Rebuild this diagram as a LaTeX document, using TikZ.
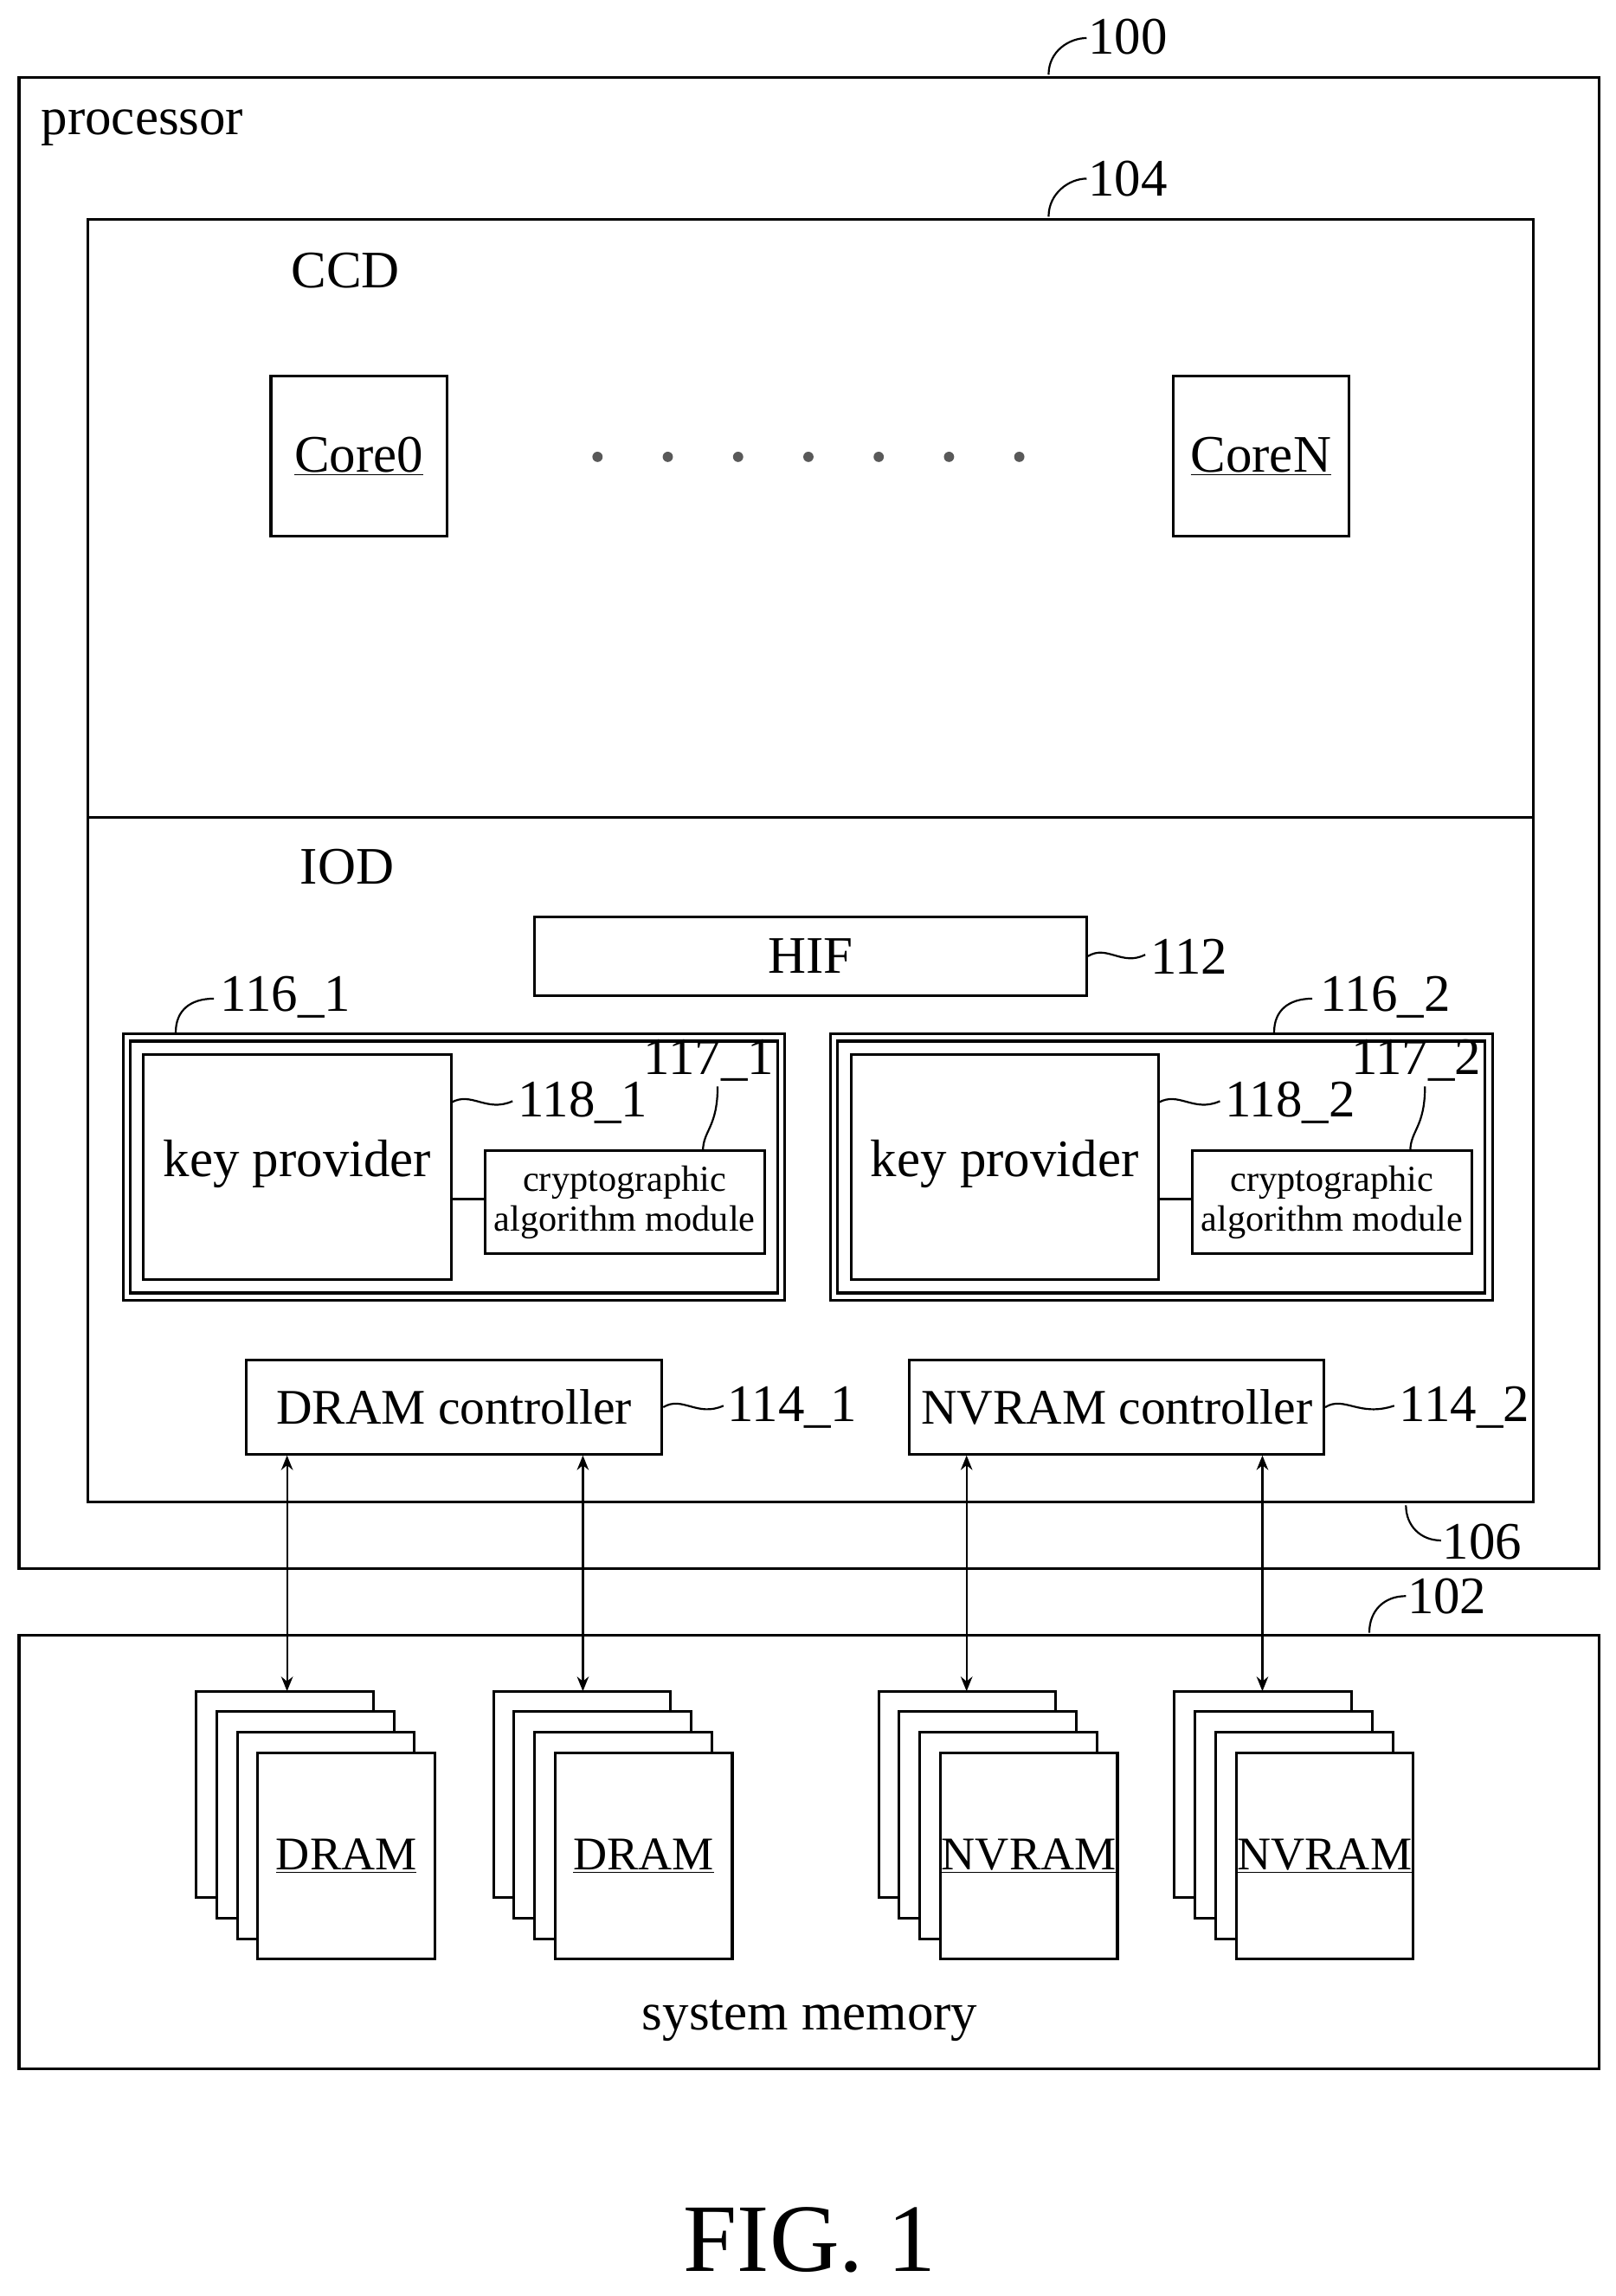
\documentclass[tikz,border=0pt]{standalone}
\usepackage{fontspec}
\setmainfont{Liberation Serif}
\usetikzlibrary{fit,arrows.meta}
\begin{document}
\begin{tikzpicture}[x=1pt,y=-1pt,line width=1.8pt,
  box/.style={draw,inner sep=0pt},
  big/.style={font=\fontsize{36}{38}\selectfont},
  ctl/.style={font=\fontsize{34}{36}\selectfont},
  mid/.style={font=\fontsize{32}{34}\selectfont},
  sm/.style={font=\fontsize{25}{27}\selectfont,align=center,inner sep=0pt},
  arr/.style={{Stealth[length=10pt,width=8pt]}-{Stealth[length=10pt,width=8pt]},line width=1.3pt},
  ld/.style={line width=1.3pt}]
\useasboundingbox (0,0) rectangle (1103,1568);
% processor
\node[box,fit={(13,53)(1092,1071)}] (proc) {};
\node[big,anchor=west] (proct) at (24,87) {processor};
\node[big] (r100) at (770,25) {100};
\draw[ld] (716,51) .. controls (716,35) and (730,26) .. (742,26);
% CCD
\node[box,fit={(60,150)(1047,558)}] (ccd) {};
\node[big] (ccdt) at (236,185) {CCD};
\node[big] (r104) at (770,122) {104};
\draw[ld] (716,148) .. controls (716,132) and (730,122) .. (742,122);
\node[box,fit={(185,257)(305,366)}] (c0) {};
\node[big] at (c0) {\underline{Core0}};
\node[box,fit={(801,257)(921,366)}] (cn) {};
\node[big] at (cn) {\underline{CoreN}};
\foreach \i in {0,...,6} \fill[gray!70!black] (408+48*\i,312) circle (3.5pt);
% IOD
\node[box,fit={(60,558)(1047,1026)}] (iod) {};
\node[big] (iodt) at (237,592) {IOD};
\node[big] (r106) at (1012,1053) {106};
\draw[ld] (960,1028) .. controls (960,1042) and (970,1052) .. (984,1052);
\node[box,fit={(365,626)(742,680)}] (hif) {};
\node[big] at (hif) {HIF};
\node[big] (r112) at (812,653) {112};
\draw[ld] (hif.east) .. controls (756,645) and (766,660) .. (782,652);
% 116 blocks
\foreach \o/\s in {0/1,483/2}{
  \node[box,fit={(84+\o,706)(536+\o,888)}] (m\s) {};
  \draw[line width=1.8pt] (89+\o,711) rectangle (531+\o,883);
  \node[box,fit={(98+\o,720)(308+\o,874)}] (kp\s) {};
  \node[big] at (203+\o,795) {key provider};
  \node[box,fit={(331+\o,786)(522+\o,856)}] (ca\s) {};
  \node[sm] at (ca\s) {cryptographic\\algorithm module};
  \draw (308+\o,819) -- (331+\o,819);
  \node[big] (r118\s) at (398+\o,753) {118\_\s};
  \draw[ld] (308+\o,753) .. controls (322+\o,745) and (332+\o,760) .. (350+\o,752);
  \node[big] (r117\s) at (484+\o,724) {117\_\s};
  \draw[ld] (480+\o,786) .. controls (480+\o,772) and (490+\o,770) .. (490+\o,742);
}
\node[big] (r1161) at (195,681) {116\_1};
\draw[ld] (120,705) .. controls (120,690) and (130,682) .. (146,682);
\node[big] (r1162) at (946,681) {116\_2};
\draw[ld] (870,705) .. controls (870,690) and (880,682) .. (896,682);
% controllers
\node[box,fit={(168,929)(452,993)}] (dc) {};
\node[ctl] at (dc) {DRAM controller};
\node[big] (r1141) at (541,961) {114\_1};
\draw[ld] (dc.east) .. controls (466,953) and (476,968) .. (494,960);
\node[box,fit={(621,929)(904,993)}] (nc) {};
\node[ctl] at (nc) {NVRAM controller};
\node[big] (r1142) at (1000,961) {114\_2};
\draw[ld] (nc.east) .. controls (918,953) and (928,968) .. (952,960);
% system memory
\node[box,fit={(13,1117)(1092,1413)}] (mem) {};
\node[big] (memt) at (553,1380) {system memory};
\node[big] (r102) at (988,1090) {102};
\draw[ld] (935,1115) .. controls (935,1100) and (945,1090) .. (960,1090);
\foreach \bx/\t/\n in {134/DRAM/1,337/DRAM/2,600/NVRAM/3,802/NVRAM/4}{
  \foreach \k in {0,...,3}
    \draw[fill=white] (\bx+14*\k,1155+14*\k) rectangle (\bx+121+14*\k,1296+14*\k);
  \node[box,fit={(\bx+42,1197)(\bx+163,1338)}] (pg\n) {};
  \node[mid] at (pg\n) {\underline{\t}};
}
\coordinate (t1) at (196,1155); \coordinate (t2) at (398,1155);
\coordinate (t3) at (660,1155); \coordinate (t4) at (862,1155);
\draw[arr] (dc.south -| t1) -- (t1);
\draw[arr] (dc.south -| t2) -- (t2);
\draw[arr] (nc.south -| t3) -- (t3);
\draw[arr] (nc.south -| t4) -- (t4);
\node[font=\fontsize{66}{68}\selectfont] (fig) at (553,1530) {FIG. 1};
\end{tikzpicture}
\end{document}
